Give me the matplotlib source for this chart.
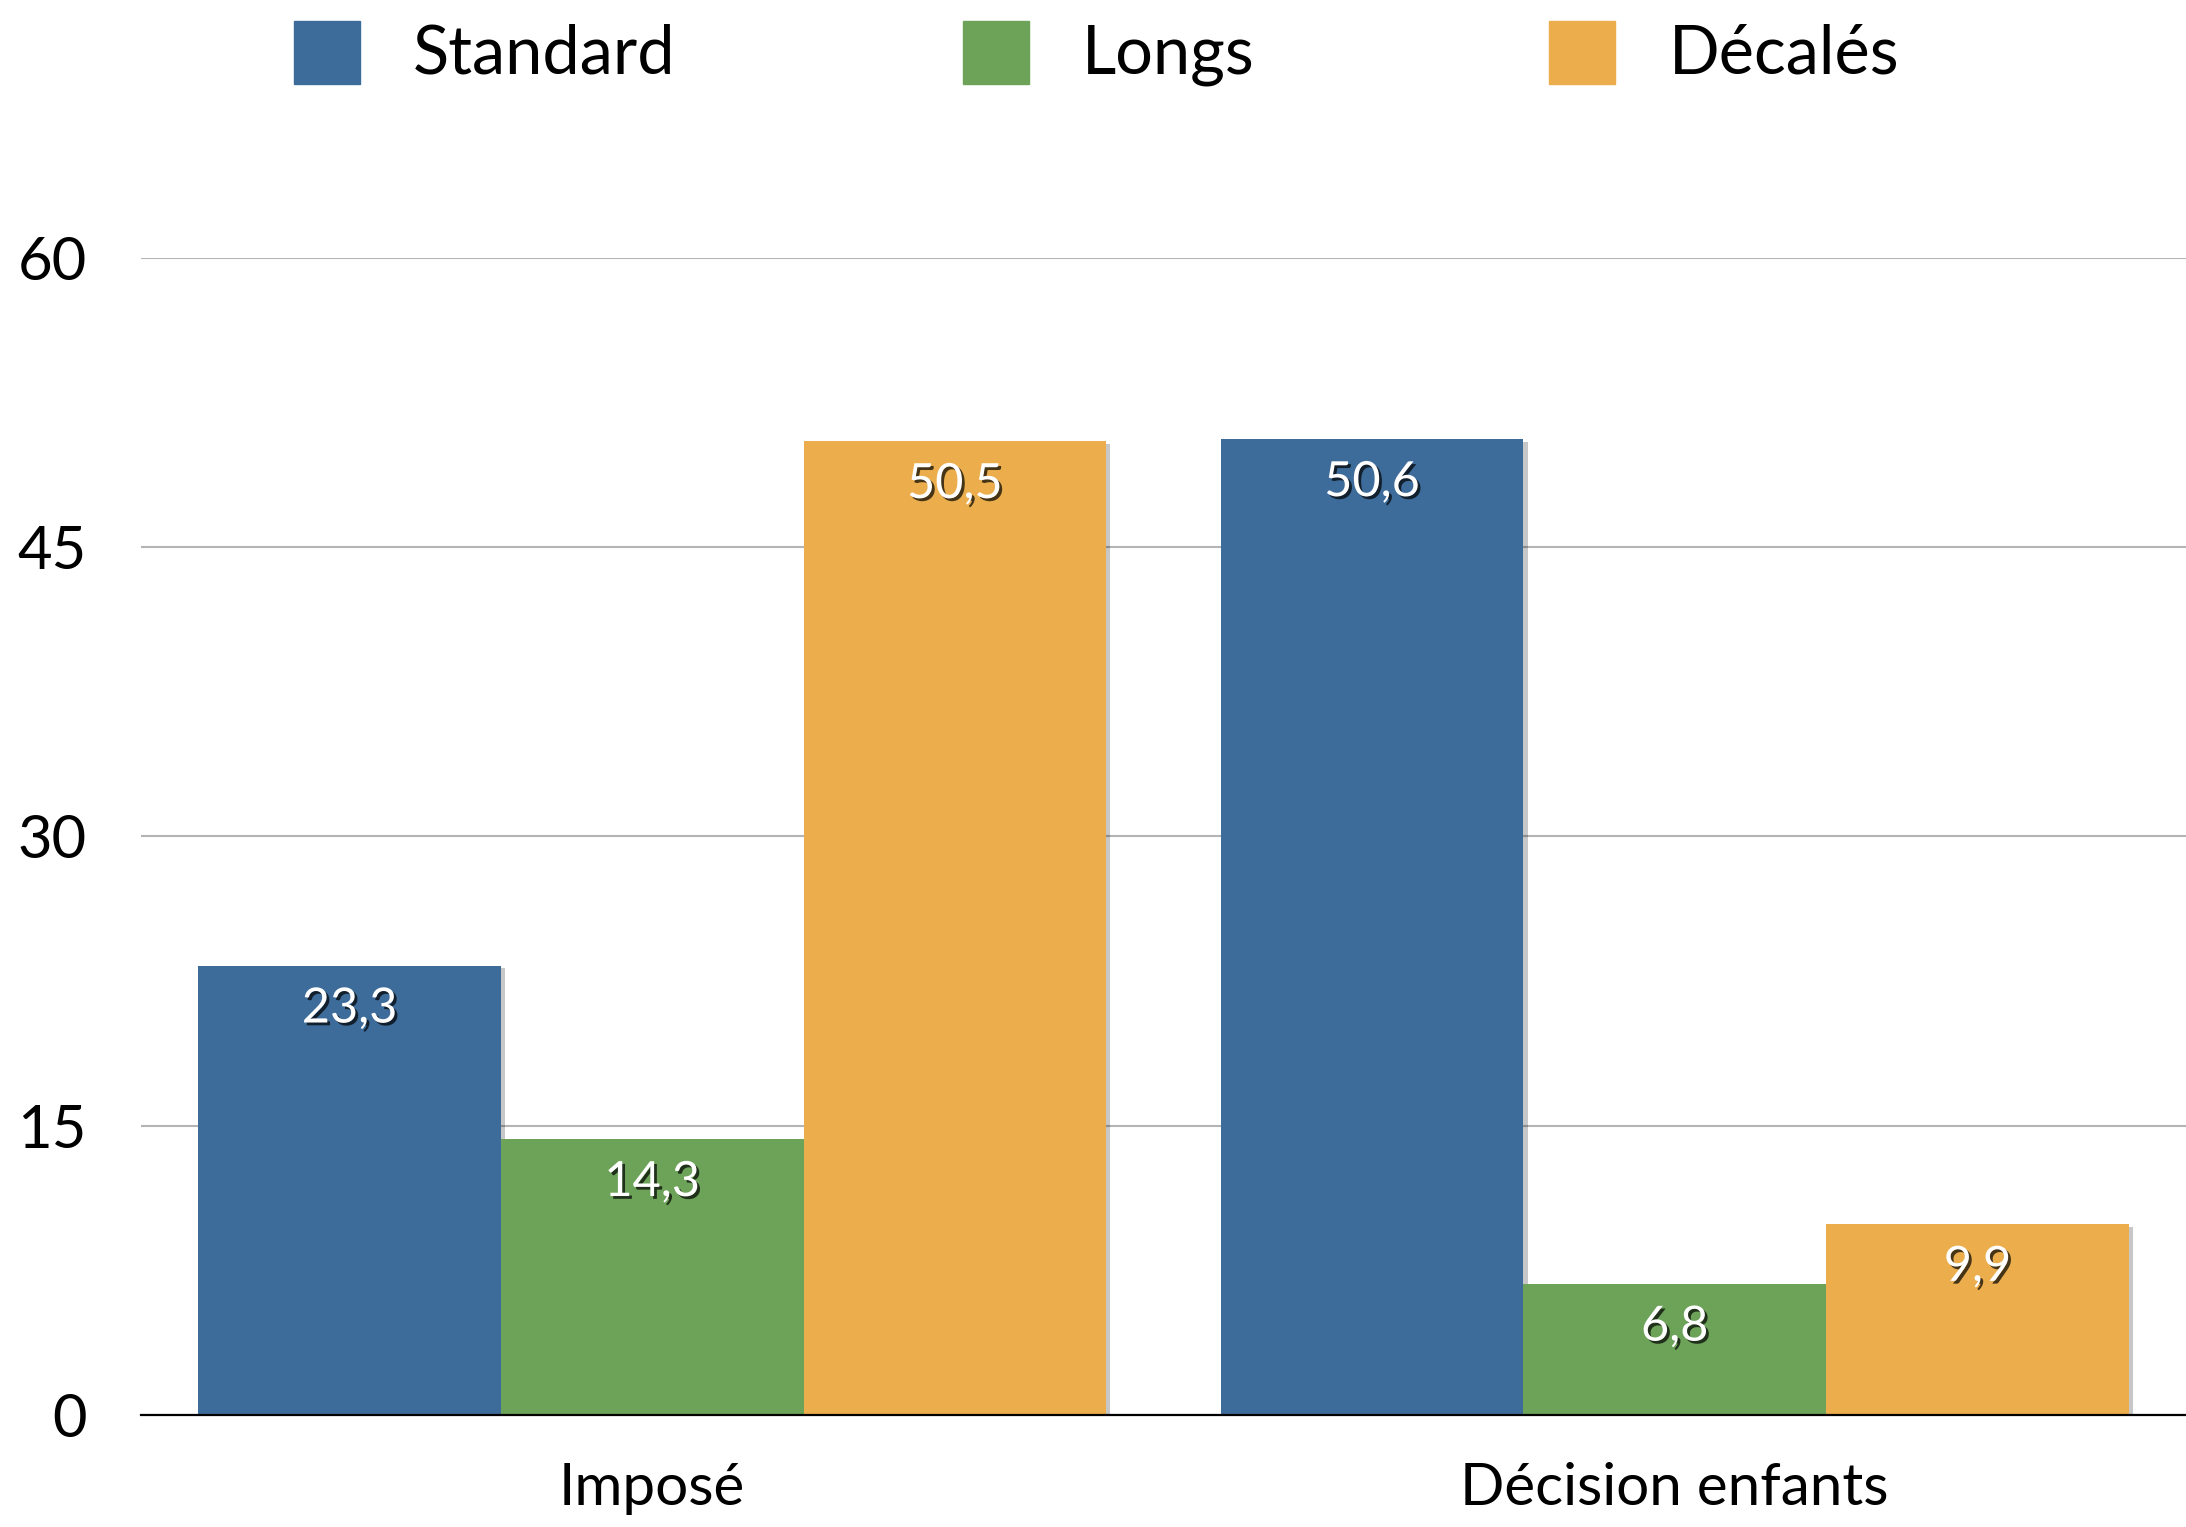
import numpy as np
import matplotlib
matplotlib.use('Agg')
import matplotlib.pyplot as plt
import matplotlib.patheffects as pe
from matplotlib.patches import Rectangle

categories = ['Imposé', 'Décision enfants']
series = ['Standard', 'Longs', 'Décalés']
values = {
    'Standard': [23.3, 50.6],
    'Longs': [14.3, 6.8],
    'Décalés': [50.5, 9.9],
}
colors = ['#3D6C9B', '#6CA359', '#ECAE4C']
yticks = [0, 15, 30, 45, 60]

plt.rcParams['font.family'] = ['Lato', 'DejaVu Sans']

fig = plt.figure(figsize=(21.86, 15.27), dpi=100)
ax = fig.add_axes([0.0645, 0.0734, 0.9355, 0.7576])

x = np.arange(len(categories))
width = 0.296
bar_shadow = [pe.SimplePatchShadow(offset=(3, -2), shadow_rgbFace='black', alpha=0.22), pe.Normal()]
text_shadow = [pe.SimplePatchShadow(offset=(2, -2), shadow_rgbFace='black', alpha=0.7), pe.Normal()]

for i, name in enumerate(series):
    vals = values[name]
    bars = ax.bar(x + (i - 1) * width, vals, width, color=colors[i], zorder=3)
    for b, v in zip(bars, vals):
        b.set_path_effects(bar_shadow)
        ax.annotate(f'{v:.1f}'.replace('.', ','), (b.get_x() + b.get_width() / 2, v),
                    xytext=(0, -15), textcoords='offset points', ha='center', va='top',
                    fontsize=35, color='white', zorder=5, path_effects=text_shadow)

ax.set_xlim(-0.5, 1.5)
ax.set_ylim(0, 60)
ax.set_yticks(yticks)
ax.set_xticks(x)
ax.set_xticklabels(categories)
ax.tick_params(axis='y', length=0, pad=39, labelsize=43)
ax.tick_params(axis='x', length=0, pad=34, labelsize=42)
ax.yaxis.grid(True, color='#b4b4b4', linewidth=1.5, zorder=0)
ax.set_axisbelow(True)
for s in ['top', 'right', 'left']:
    ax.spines[s].set_visible(False)
ax.spines['bottom'].set_linewidth(1.6)
ax.spines['bottom'].set_color('black')
ax.spines['bottom'].set_zorder(4)

# legend row at top
sq_x = [294, 963, 1549]
txt_x = [413, 1082, 1669]
W, H = 2186, 1527
yc = 1 - 55 / H
for i, name in enumerate(series):
    fig.patches.append(Rectangle((sq_x[i] / W, 1 - 84 / H), 66 / W, 63 / H,
                                 transform=fig.transFigure, color=colors[i]))
    fig.text(txt_x[i] / W, yc, name, fontsize=48, va='center', ha='left')

fig.savefig('out.png', dpi=100)
